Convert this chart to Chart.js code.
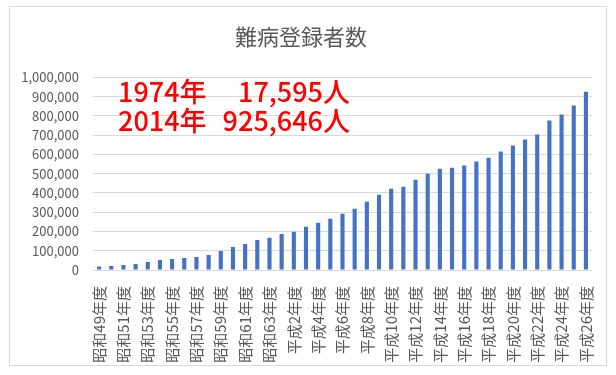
<!DOCTYPE html>
<html>
<head>
<meta charset="utf-8">
<script src="https://cdn.jsdelivr.net/npm/chart.js@4"></script>
<style>
  body { margin: 0; background: #fff; }
</style>
</head>
<body>
<canvas id="nanbyoChart" width="616" height="375"></canvas>
<script>
const years = [
    "昭和49年度", "昭和50年度", "昭和51年度", "昭和52年度", "昭和53年度",
    "昭和54年度", "昭和55年度", "昭和56年度", "昭和57年度", "昭和58年度",
    "昭和59年度", "昭和60年度", "昭和61年度", "昭和62年度", "昭和63年度",
    "平成元年度", "平成2年度", "平成3年度", "平成4年度", "平成5年度",
    "平成6年度", "平成7年度", "平成8年度", "平成9年度", "平成10年度",
    "平成11年度", "平成12年度", "平成13年度", "平成14年度", "平成15年度",
    "平成16年度", "平成17年度", "平成18年度", "平成19年度", "平成20年度",
    "平成21年度", "平成22年度", "平成23年度", "平成24年度", "平成25年度",
    "平成26年度"
];
const patients = [
    17595, 21000, 26000, 31000, 42000, 52000, 57000, 62000, 68000, 78000,
    99000, 120000, 135000, 156000, 167000, 187000, 198000, 224000, 245000, 266000,
    292000, 318000, 354000, 391000, 422000, 432000, 469000, 500000, 526000, 531000,
    542000, 563000, 583000, 615000, 646000, 677000, 703000, 776000, 807000, 854000,
    925646
];
const noteYears = ["1974年", "2014年"];
const noteCounts = ["17,595人", "925,646人"];

const grey = '#595959';
const jpFont = '"Noto Sans CJK JP", "Noto Sans", sans-serif';

// outer frame + red note
const frame = {
    id: 'frame',
    beforeDraw(chart) {
        const ctx = chart.ctx;
        ctx.save();
        ctx.fillStyle = '#ffffff';
        ctx.fillRect(0, 0, chart.width, chart.height);
        ctx.strokeStyle = '#d9d9d9';
        ctx.lineWidth = 1;
        ctx.strokeRect(9.5, 6.5, 597, 359);
        ctx.restore();
    },
    afterDraw(chart) {
        const ctx = chart.ctx;
        const left = chart.chartArea.left + 25;
        ctx.save();
        ctx.fillStyle = '#ff0000';
        ctx.font = '500 27px ' + jpFont;
        ctx.textBaseline = 'alphabetic';
        noteYears.forEach((y, i) => {
            const base = 102 + i * 28.5;
            ctx.textAlign = 'left';
            ctx.fillText(y, left, base);
            ctx.textAlign = 'right';
            ctx.fillText(noteCounts[i], left + 232, base);
        });
        ctx.restore();
    }
};

new Chart(document.getElementById("nanbyoChart"), {
    type: 'bar',
    data: {
        labels: years,
        datasets: [{
            label: "難病登録者数",
            data: patients,
            backgroundColor: '#4472c4',
            barPercentage: 0.34,
            categoryPercentage: 1
        }]
    },
    options: {
        responsive: false,
        animation: false,
        layout: {
            padding: { left: 10, right: 24, top: 6, bottom: 9 }
        },
        plugins: {
            legend: { display: false },
            tooltip: { enabled: false },
            title: {
                display: true,
                text: "難病登録者数",
                color: grey,
                font: { family: jpFont, size: 22, weight: 'normal', lineHeight: 1.2 },
                padding: { top: 17, bottom: 28 }
            }
        },
        scales: {
            x: {
                grid: { display: false },
                border: { display: false },
                ticks: {
                    autoSkip: false,
                    minRotation: 90,
                    maxRotation: 90,
                    padding: 8,
                    color: grey,
                    font: { family: jpFont, size: 15 },
                    callback: function (value, index) {
                        return index % 2 === 0 ? this.getLabelForValue(value) : '';
                    }
                },
                afterFit: (scale) => { scale.height = 96; }
            },
            y: {
                min: 0,
                max: 1000000,
                grid: { color: '#d9d9d9', drawTicks: false },
                border: { display: false },
                ticks: {
                    stepSize: 100000,
                    padding: 14,
                    color: grey,
                    font: { family: jpFont, size: 13 },
                    callback: (v) => v.toLocaleString('en-US')
                },
                afterFit: (scale) => { scale.height; scale.width = 83; }
            }
        }
    },
    plugins: [frame]
});
</script>
</body>
</html>
